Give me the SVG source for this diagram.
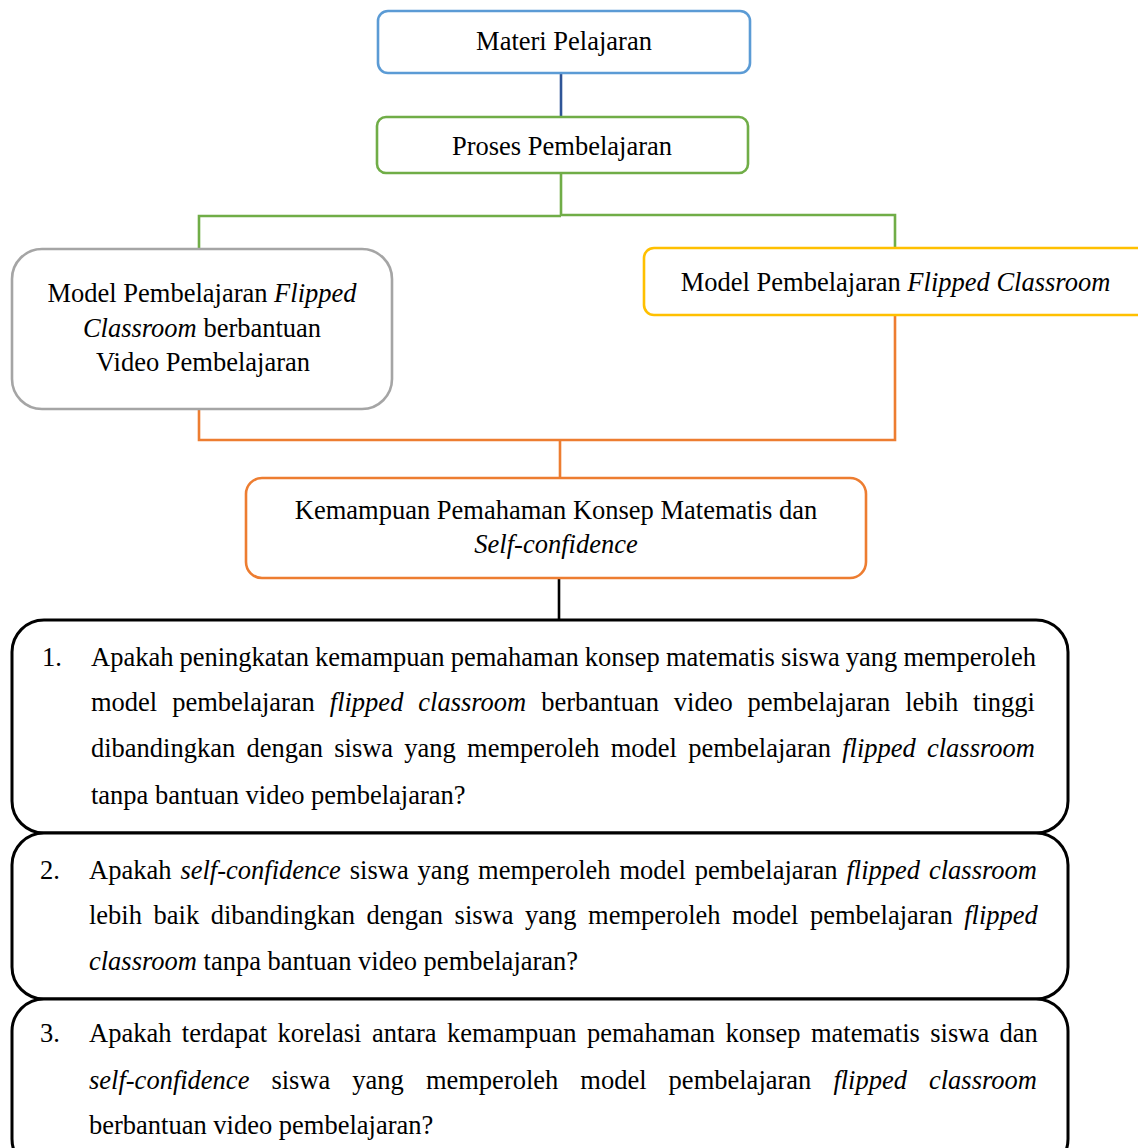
<svg xmlns="http://www.w3.org/2000/svg" width="1138" height="1148" viewBox="0 0 1138 1148">
<style>
text{font-family:"Liberation Serif","Times New Roman",serif;font-size:26.5px;fill:#000}
.c{text-anchor:middle}
.i{font-style:italic}
.box{fill:#fff;stroke-width:2.6}
.q{fill:#fff;stroke:#000;stroke-width:3}
.ln{fill:none;stroke-width:2.6}
</style>
<rect width="1138" height="1148" fill="#fff"/>
<g id="connectors">
<path class="ln" stroke="#2F5597" d="M561 73V117"/>
<path class="ln" stroke="#70AD47" d="M561 173V216M199 249V216H561M561 215H895V248"/>
<path class="ln" stroke="#ED7D31" d="M199 409V440H895V315M560 440V478"/>
<path class="ln" stroke="#000" d="M559 578V620"/>
</g>
<g id="materi">
<rect class="box" stroke="#5B9BD5" x="378" y="11" width="372" height="62" rx="10"/>
<text class="c" x="564" y="50">Materi Pelajaran</text>
</g>
<g id="proses">
<rect class="box" stroke="#70AD47" x="377" y="117" width="371" height="56" rx="9"/>
<text class="c" x="562" y="155">Proses Pembelajaran</text>
</g>
<g id="model-video">
<rect class="box" stroke="#A5A5A5" x="12" y="249" width="380" height="160" rx="30"/>
<text class="c" x="202" y="302">Model Pembelajaran <tspan class="i">Flipped</tspan></text>
<text class="c" x="202" y="337"><tspan class="i">Classroom</tspan> berbantuan</text>
<text class="c" x="203" y="371">Video Pembelajaran</text>
</g>
<g id="model-fc">
<rect class="box" stroke="#FFC000" x="644" y="248" width="520" height="67" rx="10"/>
<text class="c" x="895.5" y="291">Model Pembelajaran <tspan class="i">Flipped Classroom</tspan></text>
</g>
<g id="kemampuan">
<rect class="box" stroke="#ED7D31" x="246" y="478" width="620" height="100" rx="16"/>
<text class="c" x="556" y="519">Kemampuan Pemahaman Konsep Matematis dan</text>
<text class="c i" x="556" y="553">Self-confidence</text>
</g>
<g id="q1">
<rect class="q" x="12" y="620" width="1056" height="213" rx="32"/>
<text x="42" y="666">1.</text>
<text x="91" y="666" style="word-spacing:-0.55px">Apakah peningkatan kemampuan pemahaman konsep matematis siswa yang memperoleh</text>
<text x="91" y="711" style="word-spacing:8.28px">model pembelajaran <tspan class="i">flipped classroom</tspan> berbantuan video pembelajaran lebih tinggi</text>
<text x="91" y="757" style="word-spacing:4.6px">dibandingkan dengan siswa yang memperoleh model pembelajaran <tspan class="i">flipped classroom</tspan></text>
<text x="91" y="804">tanpa bantuan video pembelajaran?</text>
</g>
<g id="q2">
<rect class="q" x="12" y="833" width="1056" height="166" rx="32"/>
<text x="40" y="879">2.</text>
<text x="89" y="879" style="word-spacing:2.34px">Apakah <tspan class="i">self-confidence</tspan> siswa yang memperoleh model pembelajaran <tspan class="i">flipped classroom</tspan></text>
<text x="89" y="924" style="word-spacing:4.93px">lebih baik dibandingkan dengan siswa yang memperoleh model pembelajaran <tspan class="i">flipped</tspan></text>
<text x="89" y="970"><tspan class="i">classroom</tspan> tanpa bantuan video pembelajaran?</text>
</g>
<g id="q3">
<rect class="q" x="12" y="999" width="1056" height="172" rx="32"/>
<text x="40" y="1042">3.</text>
<text x="89" y="1042" style="word-spacing:3.8px">Apakah terdapat korelasi antara kemampuan pemahaman konsep matematis siswa dan</text>
<text x="89" y="1089" style="word-spacing:15.4px"><tspan class="i">self-confidence</tspan> siswa yang memperoleh model pembelajaran <tspan class="i">flipped classroom</tspan></text>
<text x="89" y="1134">berbantuan video pembelajaran?</text>
</g>
</svg>
